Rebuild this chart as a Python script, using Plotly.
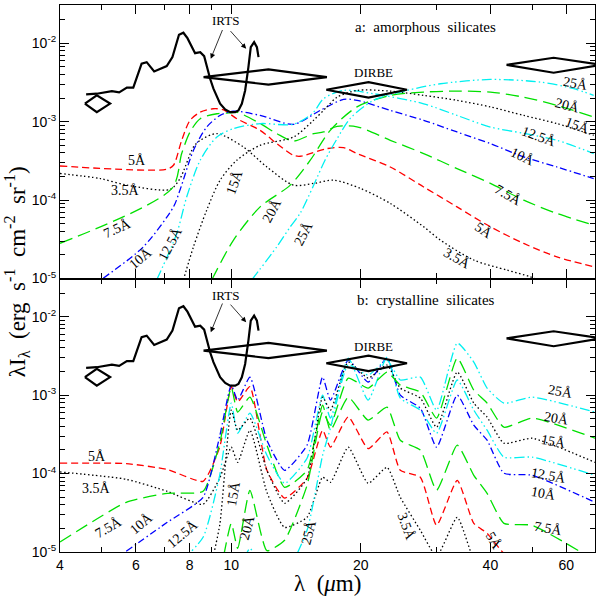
import numpy as np
import plotly.graph_objects as go
from plotly.subplots import make_subplots

# IRTS spectrum (same in both panels)
irts_lam = [4.60, 4.87, 5.28, 5.49, 5.72, 5.92, 6.19, 6.36, 6.62, 7.08, 7.30, 7.56, 7.74, 7.91,
            8.24, 8.47, 8.65, 8.77, 8.93, 9.09, 9.26, 9.42, 9.68, 9.94, 10.21, 10.39, 10.58,
            10.77, 10.96, 11.10, 11.30, 11.47, 11.57]
irts_val = [2.22e-3, 2.27e-3, 2.45e-3, 2.36e-3, 2.71e-3, 2.71e-3, 5.47e-3, 5.73e-3, 4.36e-3,
            5.10e-3, 6.64e-3, 1.28e-2, 1.36e-2, 1.16e-2, 7.46e-3, 7.68e-3, 6.84e-3, 4.95e-3,
            3.52e-3, 2.63e-3, 2.06e-3, 1.69e-3, 1.43e-3, 1.32e-3, 1.32e-3, 1.39e-3, 1.69e-3,
            2.50e-3, 4.95e-3, 8.89e-3, 1.03e-2, 8.89e-3, 6.64e-3]

# DIRBE points: band edges / centre, value and error range
dirbe_lam_lo = [4.57, 8.62, 16.62, 43.6]
dirbe_lam = [4.87, 12.2, 20.84, 56.1]
dirbe_lam_hi = [5.23, 16.68, 25.6, 72.3]
dirbe_val = [1.70e-3, 3.69e-3, 2.55e-3, 5.3e-3]
dirbe_lo = [1.32e-3, 2.96e-3, 2.02e-3, 4.2e-3]
dirbe_hi = [2.16e-3, 4.63e-3, 3.19e-3, 6.52e-3]

# a: amorphous silicates
a35_lam = [4.0, 4.96, 5.72, 7.21, 7.60, 8.17, 8.47, 9.26, 10.67, 12.10, 13.95, 15.53, 17.29,
           19.95, 23.41, 27.99, 30.6, 36.6, 43.7, 49.5, 56.0]
a35_val = [2.18e-4, 1.88e-4, 1.55e-4, 1.37e-4, 1.88e-4, 4.75e-4, 5.78e-4, 7.03e-4, 4.75e-4,
           2.64e-4, 1.55e-4, 1.63e-4, 1.79e-4, 1.41e-4, 9.06e-5, 4.56e-5, 3.09e-5, 1.72e-5,
           1.28e-5, 1.05e-5, 8.0e-6]
a5_lam = [4.0, 7.08, 7.34, 7.67, 8.02, 8.47, 9.07, 9.57, 10.30, 11.67, 12.76, 13.95, 14.46,
          16.68, 18.23, 19.59, 23.41, 27.99, 33.46, 40.0, 47.8, 57.1, 69.5]
a5_val = [2.72e-4, 2.47e-4, 2.78e-4, 5.78e-4, 1.04e-3, 1.32e-3, 1.46e-3, 1.42e-3, 1.09e-3,
          7.75e-4, 5.24e-4, 3.72e-4, 3.62e-4, 4.53e-4, 4.67e-4, 3.92e-4, 2.64e-4, 1.47e-4,
          8.19e-5, 4.56e-5, 2.80e-5, 1.89e-5, 1.41e-5]
a75_lam = [4.0, 7.28, 7.67, 8.02, 8.47, 9.26, 9.94, 10.30, 11.67, 12.76, 13.95, 15.53, 16.38,
           17.61, 19.59, 23.41, 27.99, 33.46, 40.0, 47.8, 57.1, 69.5]
a75_val = [2.81e-5, 1.41e-4, 3.92e-4, 7.38e-4, 1.09e-3, 1.26e-3, 1.29e-3, 1.32e-3, 9.44e-4,
           7.03e-4, 5.66e-4, 7.03e-4, 7.38e-4, 8.71e-4, 8.60e-4, 5.78e-4, 3.92e-4, 2.52e-4,
           1.63e-4, 9.97e-5, 6.75e-5, 4.80e-5]
a10_lam = [5.04, 6.25, 7.34, 7.60, 8.17, 8.77, 9.42, 10.12, 11.67, 13.95, 16.09, 18.23, 19.59,
           23.41, 27.99, 33.46, 40.0, 47.8, 57.1, 69.5]
a10_val = [1.01e-5, 2.54e-5, 8.19e-5, 1.34e-4, 4.31e-4, 8.53e-4, 1.20e-3, 1.36e-3, 1.20e-3,
           9.25e-4, 1.39e-3, 1.92e-3, 1.87e-3, 1.39e-3, 1.04e-3, 7.38e-4, 5.25e-4, 3.55e-4,
           2.64e-4, 1.88e-4]
a125_lam = [6.71, 7.47, 7.88, 8.47, 9.26, 10.12, 11.67, 13.95, 15.5, 16.38, 18.23, 21.4, 27.99,
            33.46, 40.0, 47.8, 57.1, 69.5]
a125_val = [9.6e-6, 3.76e-5, 1.10e-4, 3.22e-4, 6.37e-4, 8.15e-4, 9.44e-4, 9.25e-4, 1.30e-3,
            1.96e-3, 2.50e-3, 2.27e-3, 1.69e-3, 1.20e-3, 8.53e-4, 7.10e-4, 5.78e-4, 3.92e-4]
a15_lam = [7.74, 8.17, 8.77, 9.42, 10.30, 11.67, 13.95, 15.53, 16.68, 17.61, 19.59, 23.41,
           27.99, 33.46, 40.0, 47.8, 57.1, 69.5]
a15_val = [9.6e-6, 2.54e-5, 7.46e-5, 1.79e-4, 3.22e-4, 4.99e-4, 6.37e-4, 1.04e-3, 1.54e-3,
           2.05e-3, 2.50e-3, 2.45e-3, 2.16e-3, 1.87e-3, 1.54e-3, 1.20e-3, 9.44e-4, 6.70e-4]
a20_lam = [9.01, 10.12, 11.67, 13.71, 15.26, 16.98, 19.59, 23.41, 27.99, 33.46, 40.0, 47.8,
           57.1, 69.5]
a20_val = [9.6e-6, 3.09e-5, 8.19e-5, 1.55e-4, 3.22e-4, 7.75e-4, 1.54e-3, 2.16e-3, 2.38e-3,
           2.45e-3, 2.38e-3, 2.05e-3, 1.61e-3, 1.15e-3]
a25_lam = [11.16, 12.76, 13.71, 14.46, 15.5, 16.5, 17.6, 18.9, 21.4, 25.6, 30.6, 40.0, 52.3,
           62.5, 69.5]
a25_val = [9.6e-6, 2.54e-5, 4.56e-5, 6.8e-5, 1.5e-4, 3.2e-4, 6.0e-4, 1.1e-3, 1.87e-3, 2.50e-3,
           3.04e-3, 3.45e-3, 3.19e-3, 2.63e-3, 2.16e-3]

# b: crystalline silicates (values on a common wavelength grid, later curves start further in)
lam_b = [4.0, 5.7, 7.1, 8.6, 9.4, 10.0, 10.35, 11.05, 12.1, 13.3, 15.0, 16.3, 17.0, 18.7, 20.8,
         23.0, 24.7, 27.5, 30.0, 33.5, 36.6, 39.3, 43.0, 50.0, 70.0]
b35 = [1.05e-4, 8.46e-5, 5.94e-5, 4.06e-5, 8.71e-5, 2.17e-4, 1.39e-4, 3.57e-4, 5.77e-5, 2.06e-5,
       2.77e-5, 8.97e-5, 7.74e-5, 2.17e-4, 7.52e-5, 1.20e-4, 4.98e-5, 1.89e-5, 8.8e-6, 2.77e-5,
       7.8e-6, 4.3e-6, 2.4e-6, 1.3e-6, 4.1e-7]
b5 = [1.36e-4, 1.34e-4, 1.13e-4, 7.97e-5, 2.17e-4, 1.28e-3, 8.2e-4, 1.28e-3, 1.10e-4, 4.87e-5,
      8.71e-5, 3.57e-4, 2.17e-4, 5.28e-4, 2.08e-4, 3.40e-4, 1.10e-4, 8.97e-5, 2.19e-5, 8.21e-5,
      2.32e-5, 1.73e-5, 9.6e-6, 5.8e-6, 2.4e-6]
b75 = [1.34e-5, 4.30e-5, 5.60e-5, 5.94e-5, 2.44e-4, 1.26e-3, 6.07e-4, 9.42e-4, 2.30e-4, 6.68e-5,
       1.10e-4, 7.45e-4, 3.57e-4, 9.42e-4, 4.80e-4, 7.03e-4, 2.66e-4, 1.99e-4, 6.12e-5, 2.30e-4,
       9.51e-5, 5.60e-5, 2.32e-5, 2.19e-5, 7.8e-6]
b10 = [1.02e-5, 2.39e-5, 4.98e-5, 3.0e-4, 1.34e-3, 8.63e-4, 1.70e-3, 2.66e-4, 1.10e-4, 2.30e-4,
       1.70e-3, 8.63e-4, 2.80e-3, 1.47e-3, 2.97e-3, 1.0e-3, 6.82e-4, 2.17e-4, 1.0e-3, 4.14e-4,
       2.66e-4, 1.01e-4, 9.51e-5, 4.30e-5]
b125 = [5.0e-6, 1.54e-5, 9.51e-5, 7.91e-4, 3.27e-4, 5.89e-4, 1.71e-4, 7.52e-5, 1.57e-4, 1.0e-3,
        5.09e-4, 2.97e-3, 8.63e-4, 3.06e-3, 9.16e-4, 6.43e-4, 3.27e-4, 1.56e-3, 6.43e-4, 3.57e-4,
        1.62e-4, 1.62e-4, 9.51e-5]
b15 = [2.4e-6, 2.2e-5, 6.43e-4, 3.57e-4, 5.09e-4, 1.10e-4, 4.18e-5, 8.71e-5, 9.42e-4, 6.43e-4,
       2.64e-3, 1.65e-3, 2.42e-3, 1.23e-3, 9.16e-4, 3.90e-4, 1.97e-3, 7.91e-4, 5.24e-4, 2.44e-4,
       2.82e-4, 1.39e-4]
b20 = [6e-7, 5.0e-6, 2.32e-5, 1.11e-5, 6.12e-5, 1.04e-5, 1.41e-5, 7.08e-5, 6.07e-4, 4.14e-4,
       1.65e-3, 1.23e-3, 1.97e-3, 1.34e-3, 1.09e-3, 5.09e-4, 2.97e-3, 1.16e-3, 7.91e-4, 3.90e-4,
       5.09e-4, 2.82e-4]
b25 = [2.4e-6, 5.0e-6, 1.11e-5, 5.0e-6, 5.0e-6, 1.89e-5, 1.71e-4, 3.79e-4, 2.42e-3, 1.80e-3,
       2.80e-3, 1.56e-3, 1.70e-3, 6.43e-4, 4.61e-3, 2.64e-3, 1.23e-3, 7.91e-4, 9.42e-4, 6.07e-4]

GREEN = "#00e000"
CYAN = "#00f0f0"
styles = {
    "3.5": dict(color="black", dash="1.5px,2.5px", width=1.3),
    "5": dict(color="red", dash="7px,4px", width=1.3),
    "7.5": dict(color=GREEN, dash="13px,6px", width=1.3),
    "10": dict(color="blue", dash="7px,3px,1.5px,3px", width=1.3),
    "12.5": dict(color=CYAN, dash="10px,3px,1.5px,3px,1.5px,3px", width=1.3),
    "15": dict(color="black", dash="1.5px,2.5px", width=1.3),
    "20": dict(color=GREEN, dash="13px,6px", width=1.3),
    "25": dict(color=CYAN, dash="10px,3px,1.5px,3px,1.5px,3px", width=1.3),
}

top_curves = [("3.5", a35_lam, a35_val), ("5", a5_lam, a5_val), ("7.5", a75_lam, a75_val),
              ("10", a10_lam, a10_val), ("12.5", a125_lam, a125_val), ("15", a15_lam, a15_val),
              ("20", a20_lam, a20_val), ("25", a25_lam, a25_val)]
bot_curves = [("3.5", b35), ("5", b5), ("7.5", b75), ("10", b10), ("12.5", b125),
              ("15", b15), ("20", b20), ("25", b25)]

fig = make_subplots(rows=2, cols=1, shared_xaxes=True, vertical_spacing=0)

for name, lam, val in top_curves:
    fig.add_trace(go.Scatter(x=lam, y=val, mode="lines", line=styles[name],
                             line_shape="spline", line_smoothing=0.8), row=1, col=1)
for name, val in bot_curves:
    fig.add_trace(go.Scatter(x=lam_b[len(lam_b) - len(val):], y=val, mode="lines",
                             line=styles[name], line_shape="spline", line_smoothing=0.5),
                  row=2, col=1)

# diamonds for DIRBE
dx, dy = [], []
for i in range(len(dirbe_lam)):
    dx += [dirbe_lam_lo[i], dirbe_lam[i], dirbe_lam_hi[i], dirbe_lam[i], dirbe_lam_lo[i], None]
    dy += [dirbe_val[i], dirbe_hi[i], dirbe_val[i], dirbe_lo[i], dirbe_val[i], None]

for r in (1, 2):
    fig.add_trace(go.Scatter(x=irts_lam, y=irts_val, mode="lines",
                             line=dict(color="black", width=2.2)), row=r, col=1)
    fig.add_trace(go.Scatter(x=dx, y=dy, mode="lines",
                             line=dict(color="black", width=2.2)), row=r, col=1)

lg = np.log10
ann = []


def label(text, lam, val, ang, r, size=14):
    s = "" if r == 1 else "2"
    ann.append(dict(text=text, x=lg(lam), y=lg(val), xref="x" + s, yref="y" + s,
                    showarrow=False, textangle=ang,
                    font=dict(family="Liberation Serif", size=size, color="black")))


top_labels = [("5Å", 6.04, 3.22e-4, 0), ("3.5Å", 5.67, 1.34e-4, 0), ("7.5Å", 5.43, 4.38e-5, -25),
              ("10Å", 6.14, 1.82e-5, -40), ("12.5Å", 7.21, 2.83e-5, -62), ("15Å", 10.2, 1.71e-4, -70),
              ("20Å", 12.42, 7.45e-5, -62), ("25Å", 14.72, 3.76e-5, -62),
              ("25Å", 63.1, 3.04e-3, 10), ("20Å", 60.3, 1.61e-3, 15), ("15Å", 63.6, 8.97e-4, 20),
              ("12.5Å", 51.8, 6.41e-4, 20), ("10Å", 47.4, 3.55e-4, 25), ("7.5Å", 44.1, 1.15e-4, 30),
              ("5Å", 38.6, 4.14e-5, 35), ("3.5Å", 33.5, 1.81e-5, 30)]
bot_labels = [("5Å", 4.87, 1.63e-4, 0), ("3.5Å", 4.87, 6.43e-5, 0), ("7.5Å", 5.18, 2.08e-5, -30),
              ("10Å", 6.19, 2.30e-5, -40), ("12.5Å", 7.74, 1.71e-5, -40), ("15Å", 10.12, 5.56e-5, -80),
              ("20Å", 10.87, 2.08e-5, -75), ("25Å", 15.12, 1.79e-5, -75),
              ("25Å", 58.2, 1.10e-3, 10), ("20Å", 57.1, 5.04e-4, 10), ("15Å", 56.1, 2.54e-4, 10),
              ("12.5Å", 54.6, 9.5e-5, 10), ("10Å", 53.2, 5.56e-5, 10), ("7.5Å", 54.6, 1.99e-5, 10),
              ("5Å", 40.7, 1.41e-5, 60), ("3.5Å", 25.6, 2.08e-5, 70)]
for t in top_labels:
    label(*t, 1)
for t in bot_labels:
    label(*t, 2)

label("a:  amorphous  silicates", 28.3, 1.6e-2, 0, 1, 15)
label("b:  crystalline  silicates", 28.3, 1.63e-2, 0, 2, 15)
label("DIRBE", 21.4, 4.28e-3, 0, 1, 13)
label("DIRBE", 21.4, 4.22e-3, 0, 2, 13)
label("IRTS", 9.68, 1.95e-2, 0, 1, 13)
label("IRTS", 9.68, 1.89e-2, 0, 2, 13)

for r in (1, 2):
    s = "" if r == 1 else "2"
    for tail, tip in [((9.57, 1.54e-2), (8.96, 6.34e-3)), ((9.89, 1.49e-2), (10.83, 8.49e-3))]:
        ann.append(dict(text="", x=lg(tip[0]), y=lg(tip[1]), ax=lg(tail[0]), ay=lg(tail[1]),
                        xref="x" + s, yref="y" + s, axref="x" + s, ayref="y" + s,
                        showarrow=True, arrowhead=2, arrowsize=1.3, arrowwidth=0.8,
                        arrowcolor="black"))

sp = "&nbsp;&nbsp;"
ann.append(dict(text="λI<sub>λ</sub>" + sp + "(erg" + sp + "s<sup>-1</sup>" + sp + "cm<sup>-2</sup>"
                + sp + "sr<sup>-1</sup>)",
                x=-0.08, y=0.512, xref="paper", yref="paper", showarrow=False, textangle=-90,
                xanchor="center", yanchor="middle",
                font=dict(family="Liberation Serif", size=23, color="black")))
ann.append(dict(text="λ" + sp + "(<i>μ</i>m)", x=0.5, y=-0.058, xref="paper", yref="paper",
                showarrow=False, xanchor="center", yanchor="middle",
                font=dict(family="Liberation Serif", size=23, color="black")))

axis_font = dict(family="Liberation Sans", size=14, color="black")
fig.update_xaxes(type="log", range=[lg(4), lg(70)], automargin=False,
                 tickvals=[4, 6, 8, 10, 20, 40, 60], ticktext=["4", "6", "8", "10", "20", "40", "60"],
                 ticks="inside", ticklen=9, tickwidth=1, tickcolor="black",
                 showline=True, linecolor="black", linewidth=1.2, mirror="allticks",
                 showgrid=False, zeroline=False, tickfont=axis_font,
                 minor=dict(tickvals=[5, 7, 9, 30, 50, 70], ticks="inside", ticklen=5,
                            tickcolor="black", showgrid=False))
fig.update_xaxes(showticklabels=False, row=1, col=1)
minor_y = [k * 10.0 ** e for e in (-5, -4, -3, -2) for k in range(2, 10)]
fig.update_yaxes(type="log", range=[-5, -1.513], automargin=False,
                 tickvals=[1e-5, 1e-4, 1e-3, 1e-2],
                 ticktext=["10<sup>-5</sup>", "10<sup>-4</sup>", "10<sup>-3</sup>", "10<sup>-2</sup>"],
                 ticks="inside", ticklen=9, tickwidth=1, tickcolor="black",
                 showline=True, linecolor="black", linewidth=1.2, mirror="allticks",
                 showgrid=False, zeroline=False, tickfont=axis_font,
                 minor=dict(tickvals=minor_y, ticks="inside", ticklen=5,
                            tickcolor="black", showgrid=False))

fig.update_layout(width=599, height=599, margin=dict(l=60, r=4, t=5, b=47),
                  plot_bgcolor="white", paper_bgcolor="white", showlegend=False,
                  annotations=ann)
fig.write_html("out.html", config={"displayModeBar": False},
               post_script="document.body.style.margin='0';document.body.style.overflow='hidden';")
